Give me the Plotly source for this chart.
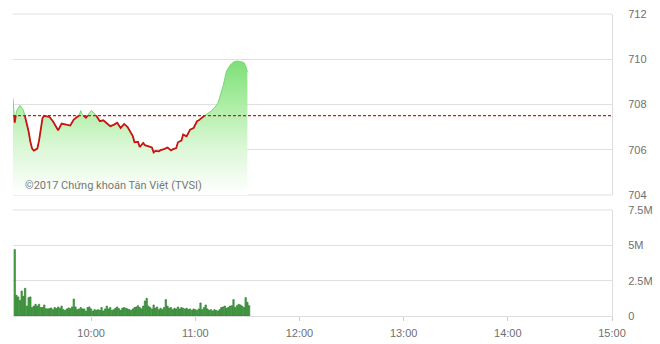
import plotly.graph_objects as go

DATE = "2017-01-01 "

# Price series (VN-Index, morning session)
price_times = ["09:15", "09:16", "09:17", "09:19", "09:21", "09:22", "09:24", "09:25", "09:26",
               "09:27", "09:29", "09:30", "09:32", "09:33", "09:34", "09:36", "09:38", "09:41",
               "09:43", "09:46", "09:48", "09:50", "09:53", "09:54", "09:55", "09:57", "09:59",
               "10:00", "10:02", "10:03", "10:05", "10:07", "10:09", "10:11", "10:13", "10:15",
               "10:17", "10:19", "10:21", "10:22", "10:24", "10:25", "10:27", "10:28", "10:30",
               "10:31", "10:33", "10:35", "10:36", "10:37", "10:39", "10:40", "10:42", "10:44",
               "10:46", "10:47", "10:49", "10:50", "10:52", "10:53", "10:55", "10:57", "10:59",
               "11:01", "11:02", "11:04", "11:06", "11:09", "11:11", "11:13", "11:14", "11:16",
               "11:18", "11:20", "11:22", "11:24", "11:26", "11:28", "11:29", "11:30"]
price_values = [708.27, 707.2, 707.7, 707.96, 707.75, 707.45, 706.8, 706.35, 706.05,
                705.96, 706.05, 706.4, 707.4, 707.5, 707.48, 707.45, 707.26, 706.86,
                707.16, 707.11, 707.07, 707.33, 707.5, 707.73, 707.55, 707.42, 707.6,
                707.73, 707.6, 707.5, 707.26, 707.3, 707.16, 707.04, 707.1, 707.19,
                706.96, 707.14, 707.0, 706.86, 706.6, 706.33, 706.35, 706.12, 706.3,
                706.2, 706.15, 706.1, 705.88, 705.95, 705.93, 705.98, 706.03, 706.1,
                705.97, 706.02, 706.07, 706.33, 706.4, 706.67, 706.59, 706.89, 706.96,
                707.26, 707.3, 707.45, 707.54, 707.7, 707.85, 708.05, 708.3, 708.81,
                709.48, 709.73, 709.88, 709.92, 709.9, 709.85, 709.7, 709.44]
reference_price = 707.51

# Volume per minute from 09:16 (millions of shares)
volume_m = [4.7, 1.47, 1.35, 1.1, 1.77, 1.4, 1.96, 0.7, 1.3, 1.35,
            0.6, 0.7, 0.83, 0.7, 0.83, 0.6, 0.6, 0.78, 0.52,
            0.5, 0.52, 0.57, 0.45, 0.6, 0.52, 0.64, 0.55, 0.7, 0.45,
            0.4, 0.5, 0.57, 0.52, 0.64, 1.2, 0.64, 0.45, 0.5, 0.6,
            0.5, 0.5, 0.35, 0.6, 0.64, 0.5, 0.35, 0.45, 0.4,
            0.45, 0.4, 0.6, 0.35, 0.5, 0.7, 0.5, 0.6, 0.4, 0.45,
            0.55, 0.64, 0.52, 0.4, 0.55, 0.6, 0.55, 0.5, 0.45, 0.4,
            0.5, 0.6, 0.64, 0.73, 0.6, 0.5, 0.7, 1.06, 1.25, 0.7,
            0.6, 0.5, 0.78, 0.55, 0.64, 0.45, 0.55, 0.45, 0.6, 1.16,
            0.7, 0.55, 0.6, 0.45, 0.55, 0.5, 0.64, 0.5, 0.6,
            0.55, 0.5, 0.55, 0.45, 0.5, 0.4, 0.5, 0.45, 0.4, 0.5,
            0.92, 0.45, 0.6, 0.78, 0.5, 0.4, 0.45, 0.35, 0.45,
            0.4, 0.35, 0.45, 0.6, 0.64, 0.7, 0.55, 0.6, 0.7, 0.73,
            1.16, 0.6, 0.73, 0.83, 0.78, 0.7, 0.6, 1.3, 0.97, 0.73]

hour_ticks = ["10:00", "11:00", "12:00", "13:00", "14:00", "15:00"]
price_ticks = [704, 706, 708, 710, 712]
vol_tickvals = [0, 2.5e6, 5e6, 7.5e6]
vol_ticktext = ["0", "2.5M", "5M", "7.5M"]

# ---- derived ----
px = [DATE + t for t in price_times]


def to_min(t):
    h, m = t.split(":")
    return int(h) * 60 + int(m)


# red segment (below reference) with crossing points
red_x, red_y = [], []
mins = [to_min(t) for t in price_times]
for i, v in enumerate(price_values):
    if i > 0:
        v0 = price_values[i - 1]
        if (v0 - reference_price) * (v - reference_price) < 0:
            f = (reference_price - v0) / (v - v0)
            mm = mins[i - 1] + f * (mins[i] - mins[i - 1])
            hh = int(mm // 60)
            ss = (mm - hh * 60) * 60
            red_x.append(DATE + "%02d:%02d:%02d" % (hh, int(ss // 60), int(ss % 60)))
            red_y.append(reference_price)
    red_x.append(px[i])
    red_y.append(v if v <= reference_price else None)

vol_x = []
for i in range(len(volume_m)):
    m = to_min("09:16") + i
    vol_x.append(DATE + "%02d:%02d" % (m // 60, m % 60))
vol_y = [v * 1e6 for v in volume_m]

fig = go.Figure()

fig.add_trace(go.Scatter(
    x=px, y=price_values, mode="lines", fill="tozeroy",
    line=dict(color="#74d874", width=1),
    fillgradient=dict(type="vertical", start=704, stop=710,
                      colorscale=[[0, "rgba(255,255,255,1)"], [0.35, "#daf7d5"],
                                  [0.65, "#aeeea6"], [1, "#7ade74"]]),
    xaxis="x", yaxis="y", hoverinfo="skip", showlegend=False))

fig.add_trace(go.Scatter(
    x=red_x, y=red_y, mode="lines", connectgaps=False,
    line=dict(color="#cc1111", width=1.8),
    xaxis="x", yaxis="y", hoverinfo="skip", showlegend=False))

fig.add_trace(go.Bar(
    x=vol_x, y=vol_y, marker=dict(color="#58aa58", line=dict(color="#237d23", width=0.7)),
    xaxis="x2", yaxis="y2", hoverinfo="skip", showlegend=False))

xr = [DATE + "09:15", DATE + "15:00"]
font = dict(family="Arial, Liberation Sans, sans-serif", size=11, color="#6f6f6f")
grid = "#e0e0e0"

TOP_DOMAIN = [0.4007, 1.0]
BOT_DOMAIN = [0.0, 0.351]

edge_lines = []
for yv in (TOP_DOMAIN[1], TOP_DOMAIN[0], BOT_DOMAIN[1]):
    edge_lines.append(dict(type="line", xref="paper", yref="paper", x0=0, x1=1, y0=yv, y1=yv,
                           line=dict(color=grid, width=1), layer="below"))

fig.update_layout(
    width=660, height=344,
    margin=dict(l=13, r=48, t=14, b=28, autoexpand=False),
    paper_bgcolor="white", plot_bgcolor="white",
    bargap=0.25,
    font=font,
    xaxis=dict(domain=[0, 1], range=xr, type="date", showgrid=False, showticklabels=False,
               zeroline=False, anchor="y", showline=False, automargin=False),
    yaxis=dict(domain=TOP_DOMAIN, range=[704, 712], tickvals=price_ticks, side="right",
               gridcolor=grid, gridwidth=1, zeroline=False, showline=True, automargin=False,
               linecolor="#dddddd", linewidth=1, ticks="", ticklabelstandoff=13, anchor="x"),
    xaxis2=dict(domain=[0, 1], range=xr, type="date", showgrid=False, anchor="y2",
                tickvals=[DATE + t for t in hour_ticks], ticktext=hour_ticks, automargin=False,
                ticks="outside", ticklen=4, tickcolor="#cccccc", zeroline=False,
                ticklabelstandoff=3, showline=True, linecolor="#dddddd"),
    yaxis2=dict(domain=BOT_DOMAIN, range=[0, 7.5e6], tickvals=vol_tickvals, ticktext=vol_ticktext,
                side="right", gridcolor=grid, zeroline=False, showline=True, automargin=False,
                linecolor="#dddddd", ticks="", ticklabelstandoff=13, anchor="x2"),
    shapes=edge_lines + [dict(type="line", xref="x domain", yref="y", x0=0, x1=1,
                              y0=reference_price, y1=reference_price,
                              line=dict(color="#c02020", width=1.2, dash="3px,2px"))],
    annotations=[dict(text="©2017 Chứng khoán Tân Việt (TVSI)", xref="x domain", yref="y domain",
                      x=0.017, y=0.05, xanchor="left", yanchor="middle", showarrow=False,
                      font=dict(family="Roboto, Arial, sans-serif", size=11, color="#777777"))],
)

fig.write_html("out.html")
